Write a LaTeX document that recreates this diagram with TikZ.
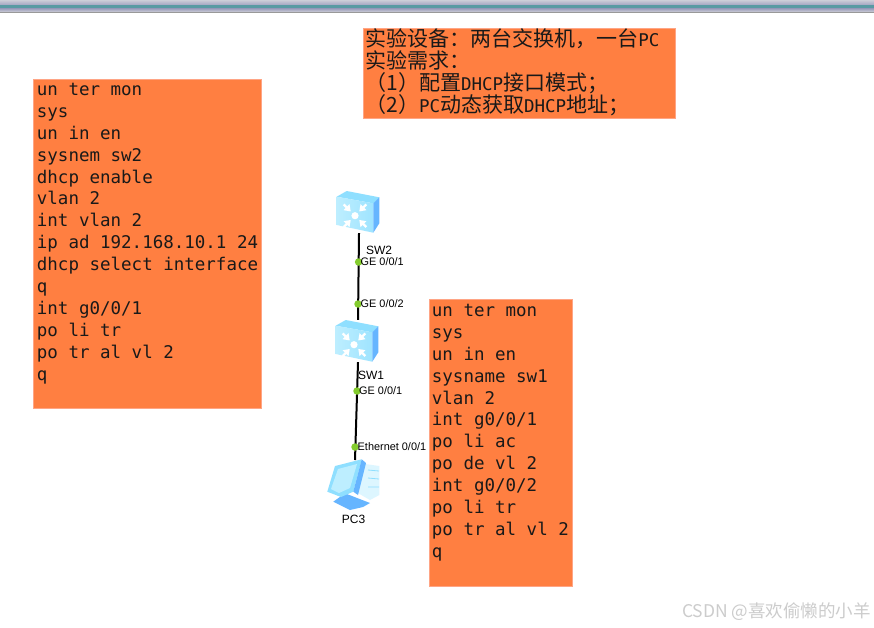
\documentclass[tikz,border=0pt]{standalone}
\usepackage{fontspec}
\setmainfont{Liberation Sans}
\newfontfamily\cjkfont{Noto Sans CJK SC}
\newfontfamily\monofont{DejaVu Sans Mono}
\usetikzlibrary{arrows.meta}
\definecolor{panelfill}{HTML}{FF7F41}
\definecolor{paneledge}{HTML}{FFA585}
\definecolor{portgreen}{HTML}{84CC2E}
\definecolor{iconfront}{HTML}{BDEEFF}
\definecolor{iconfrontb}{HTML}{9FE4FF}
\definecolor{icontop}{HTML}{8FDFFF}
\definecolor{iconside}{HTML}{66B5FF}
\definecolor{iconpale}{HTML}{DDF6FF}
\newcommand{\paneltext}[4]{\parbox[t][#2pt][t]{#1pt}{\raggedright\leftskip=#3pt\relax #4}}
\tikzset{
  panel/.style={rectangle,fill=panelfill,draw=paneledge,line width=.8pt,inner sep=0pt,anchor=north west,font=\monofont\fontsize{17.5}{21.9}\selectfont,text=black!90},
  devbox/.style={rectangle,inner sep=0pt,minimum width=44pt,minimum height=42pt},
  pcbox/.style={rectangle,inner sep=0pt,minimum width=54pt,minimum height=50pt,anchor=north},
  link/.style={line width=2pt,black},
  port/.style={circle,fill=portgreen,inner sep=0pt,minimum size=7.5pt},
  portlabel/.style={font=\fontsize{10.9}{12}\selectfont,anchor=west,inner sep=0pt},
  devlabel/.style={font=\fontsize{12}{14}\selectfont,inner sep=0pt},
  swicon/.pic={
    \fill[icontop] (-22.3,-15.3) -- (-12.3,-21) -- (20.3,-14.7) -- (14.3,-8.7) -- cycle;
    \shade[left color=iconfront,right color=iconfrontb] (-22.3,-15.3) -- (14.3,-8.7) -- (14.3,20.7) -- (-22.3,13) -- cycle;
    \fill[iconside] (14.3,-8.7) -- (20.3,-14.7) -- (20.3,11.3) -- (14.3,20.7) -- cycle;
    \fill[white] (-4,3.7) circle (3.6);
    \foreach \a in {45,135,225,315}
      \draw[white,line width=2.4pt,-{Triangle[width=8pt,length=6pt]}] ([shift={(\a:16)}]-4,3.7) -- ([shift={(\a:6)}]-4,3.7);
  },
  pcicon/.pic={
    % tower
    \fill[iconpale] (5,-30.7) -- (24.3,-28) -- (24.3,1) -- (15,6) -- (3.3,-0.7) -- cycle;
    \draw[icontop,line width=.8pt] (13,-24) -- (24,-23) (13,-16) -- (24,-15) (13,-7) -- (24,-7);
    % base
    \fill[iconside] (-21.7,7.7) -- (-10,-0.7) -- (15,9) -- (8,13) -- (-5,16) -- cycle;
    % monitor
    \fill[icontop] (-27.7,-2.3) -- (-20,-28) -- (6.7,-34.7) -- (-1.7,-2.3) -- (-14,3) -- cycle;
    \fill[iconside] (6.7,-34.7) -- (11,-31) -- (3,1) -- (-1.7,-2.3) -- cycle;
    \fill[iconfront] (-24,-5) -- (-17,-25) -- (2,-30) -- (-5,-6) -- (-16,-1) -- cycle;
  }
}
\begin{document}
\begin{tikzpicture}[x=1pt,y=-1pt]
\useasboundingbox (0,0) rectangle (874,627);
\fill[white] (0,0) rectangle (874,627);
% window title band
\shade[top color=cyan!5!blue!12!gray!35!white,bottom color=cyan!5!blue!20!gray!60!white] (0,0) rectangle (874,5);
\fill[black!25!blue!15!cyan!30!gray] (0,5) rectangle (874,8);
\shade[top color=cyan!5!blue!20!gray!70!white,bottom color=cyan!5!blue!10!gray!35!white] (0,8) rectangle (874,12);
\fill[gray!80] (0,12) rectangle (874,12.8);
% panels
\node[panel] (left) at (33,79) {\paneltext{228}{329}{3.5}{\rule{0pt}{16pt}un ter mon\\sys\\un in en\\sysnem sw2\\dhcp enable\\vlan 2\\int vlan 2\\ip ad 192.168.10.1 24\\dhcp select interface\\q\\int g0/0/1\\po li tr\\po tr al vl 2\\q}};
\node[panel] (right) at (429,299) {\paneltext{142.5}{286.5}{2.5}{\rule{0pt}{17pt}un ter mon\\sys\\un in en\\sysname sw1\\vlan 2\\int g0/0/1\\po li ac\\po de vl 2\\int g0/0/2\\po li tr\\po tr al vl 2\\q}};
\node[panel,font=\cjkfont\fontsize{21}{22}\selectfont] (top) at (362.5,28) {\paneltext{312}{90}{2.5}{\rule{0pt}{18pt}实验设备：两台交换机，一台{\monofont\fontsize{17.5}{22}\selectfont PC}\\实验需求：\\（1）配置{\monofont\fontsize{17.5}{22}\selectfont DHCP}接口模式；\\（2）{\monofont\fontsize{17.5}{22}\selectfont PC}动态获取{\monofont\fontsize{17.5}{22}\selectfont DHCP}地址；}};
% devices
\node[devbox] (sw2) at (359,212) {};
\node[devbox] (sw1) at (358,341) {};
\node[pcbox] (pc3) at (355,460) {};
\draw[link] (sw2.south) -- (sw1.north);
\draw[link] (sw1.south) -- (pc3.north);
\pic at (359,212) {swicon};
\pic at (358,341) {swicon};
\pic at (355,494) {pcicon};
% ports
\node[port] (p1) at (358.6,262) {};
\node[port] (p2) at (358,304) {};
\node[port] (p3) at (357,391) {};
\node[port] (p4) at (355,447) {};
\node[portlabel] (l1) at (360.5,262) {GE 0/0/1};
\node[portlabel] (l2) at (360.5,304) {GE 0/0/2};
\node[portlabel] (l3) at (359,391) {GE 0/0/1};
\node[portlabel] (l4) at (357.5,447) {Ethernet 0/0/1};
\node[devlabel] (n2) at (379,250) {SW2};
\node[devlabel] (n1) at (371,375) {SW1};
\node[devlabel] (n3) at (353.5,519) {PC3};
% watermark
\node[anchor=east,inner sep=0pt,text=gray!40,font=\cjkfont\fontsize{17.5}{20}\selectfont] (wm) at (871,612) {CSDN @喜欢偷懒的小羊};
\end{tikzpicture}
\end{document}
